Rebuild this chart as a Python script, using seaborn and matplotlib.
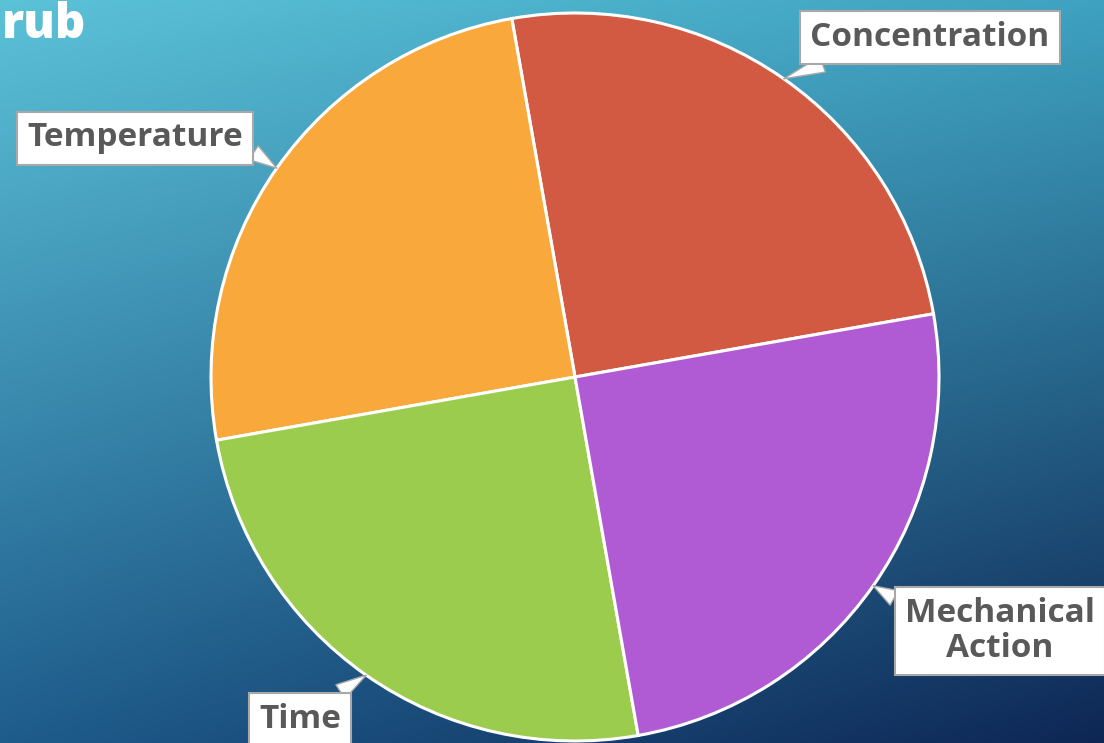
import numpy as np
import matplotlib.pyplot as plt
import seaborn as sns

title = "rub"
factors = ["Concentration", "Temperature", "Time", "Mechanical\nAction"]
shares = [25, 25, 25, 25]
colors = ["#D35A42", "#F9A83B", "#9CCC4E", "#B05BD3"]

sns.set_theme(style="white")
plt.rcParams['font.family'] = ['Open Sans', 'DejaVu Sans']

W, H = 1104, 743
fig = plt.figure(figsize=(W / 100, H / 100), dpi=100)

# background gradient (light cyan top-left -> navy bottom-right)
bg = fig.add_axes([0, 0, 1, 1])
bg.axis('off')
tl = np.array([92, 194, 216])
tr = np.array([62, 162, 192])
bl = np.array([30, 92, 140])
br = np.array([14, 38, 84])
yy, xx = np.mgrid[0:1:H * 1j, 0:1:W * 1j]
grad = (tl * ((1 - xx) * (1 - yy))[..., None] + tr * (xx * (1 - yy))[..., None]
        + bl * ((1 - xx) * yy)[..., None] + br * (xx * yy)[..., None])
bg.imshow(grad / 255, aspect='auto', extent=(0, W, 0, H), origin='upper')
bg.set_xlim(0, W)
bg.set_ylim(0, H)

ax = fig.add_axes([0, 0, 1, 1])
ax.set_facecolor('none')
cx, cy, r = 575, 366, 364
wedges, _ = ax.pie(shares, colors=colors, startangle=10, counterclock=True,
                   center=(cx, cy), radius=r,
                   wedgeprops=dict(edgecolor='white', linewidth=2.2))
ax.set_xlim(0, W)
ax.set_ylim(0, H)
ax.set_aspect('auto')
ax.axis('off')

# label boxes: center position and where the pointer leaves the box
boxes = {
    "Concentration": ((930, 706), (0.17, 0.0)),
    "Temperature": ((135, 605), (1.0, 0.27)),
    "Time": ((300, 24), (0.79, 1.0)),
    "Mechanical\nAction": ((1000, 112), (0.0, 0.9)),
}
for w, lab in zip(wedges, factors):
    ang = np.deg2rad((w.theta1 + w.theta2) / 2)
    tip = (cx + r * np.cos(ang), cy + r * np.sin(ang))
    pos, rel = boxes[lab]
    ax.annotate(lab, xy=tip, xytext=pos, ha='center', va='center',
                fontsize=24, fontweight='bold', color='#595959',
                linespacing=1.05,
                bbox=dict(boxstyle='square,pad=0.3', fc='white', ec='#A8A8A8', lw=1.5),
                arrowprops=dict(arrowstyle='wedge,tail_width=0.5', fc='white',
                                ec='#A8A8A8', lw=1, relpos=rel,
                                shrinkA=0, shrinkB=0))

fig.text(2 / W, 1 - 38 / H, title, fontsize=34, fontweight='heavy',
         color='white', ha='left', va='baseline')

fig.savefig('out.png', dpi=100)
